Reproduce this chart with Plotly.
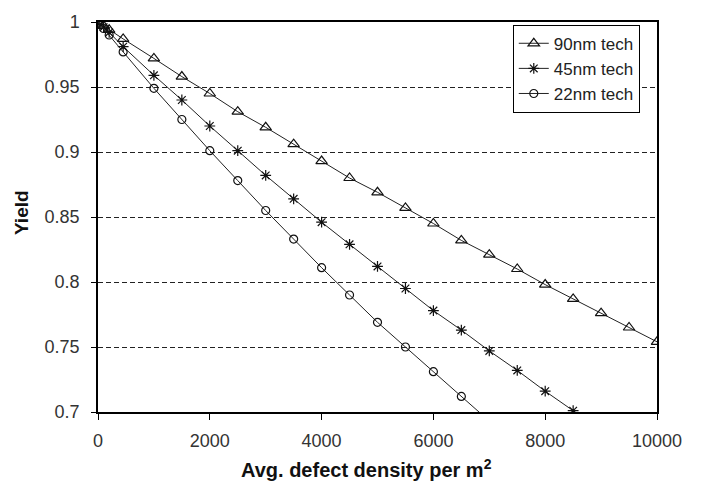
import plotly.graph_objects as go

density = [0, 100, 200, 450, 1000, 1500, 2000, 2500, 3000, 3500, 4000, 4500,
           5000, 5500, 6000, 6500, 7000, 7500, 8000, 8500, 9000, 9500, 10000]

yield_90 = [1.000, 0.997, 0.994, 0.987, 0.972, 0.958, 0.945, 0.931, 0.919, 0.906,
            0.893, 0.880, 0.869, 0.857, 0.845, 0.832, 0.821, 0.810, 0.798, 0.787,
            0.776, 0.765, 0.754]
yield_45 = [1.000, 0.996, 0.992, 0.981, 0.959, 0.940, 0.920, 0.901, 0.882, 0.864,
            0.846, 0.829, 0.812, 0.795, 0.778, 0.763, 0.747, 0.732, 0.716, 0.701,
            0.687]
yield_22 = [1.000, 0.995, 0.990, 0.977, 0.949, 0.925, 0.901, 0.878, 0.855, 0.833,
            0.811, 0.790, 0.769, 0.750, 0.731, 0.712, 0.693]

series_names = ["90nm tech", "45nm tech", "22nm tech"]
y_ticks = [0.7, 0.75, 0.8, 0.85, 0.9, 0.95, 1]
y_tick_text = ["0.7", "0.75", "0.8", "0.85", "0.9", "0.95", "1"]
x_ticks = [0, 2000, 4000, 6000, 8000, 10000]
x_tick_text = ["0", "2000", "4000", "6000", "8000", "10000"]

FONT = "Liberation Sans, Arial, sans-serif"

fig = go.Figure()
specs = [
    (yield_90, series_names[0], "triangle-up-open", 10),
    (yield_45, series_names[1], "asterisk-open", 9),
    (yield_22, series_names[2], "circle-open", 8),
]
for ys, name, sym, size in specs:
    fig.add_trace(go.Scatter(
        x=density[:len(ys)], y=ys, name=name, mode="lines+markers",
        line=dict(color="#222222", width=1),
        marker=dict(symbol=sym, size=size, color="#111111",
                    line=dict(color="#111111", width=1.2)),
    ))

fig.update_layout(
    width=702, height=485,
    margin=dict(l=98, r=45, t=16, b=73),
    paper_bgcolor="white", plot_bgcolor="white",
    font=dict(family=FONT, size=18, color="#333333"),
    showlegend=True,
    legend=dict(
        x=0.742, y=0.993, xanchor="left", yanchor="top",
        bordercolor="black", borderwidth=1, bgcolor="white",
        font=dict(family=FONT, size=17, color="#222222"),
        tracegroupgap=0, itemwidth=30,
    ),
    xaxis=dict(
        range=[0, 10000], tickvals=x_ticks, ticktext=x_tick_text,
        ticks="outside", ticklen=6,
        tickcolor="black", showline=True, linecolor="black", linewidth=1.5,
        mirror=True, showgrid=False, zeroline=False,
        tickfont=dict(size=18, color="#333333"), ticklabelstandoff=6,
    ),
    yaxis=dict(
        range=[0.7, 1.0], tickvals=y_ticks, ticktext=y_tick_text,
        ticks="outside", ticklen=5, tickcolor="black",
        showline=True, linecolor="black", linewidth=1.5, mirror=True,
        showgrid=True, gridcolor="#222222", gridwidth=1, griddash="5px,3px",
        zeroline=False, tickfont=dict(size=18, color="#333333"),
        ticklabelstandoff=8,
    ),
    annotations=[
        dict(text="<b>Avg. defect density per m<sup>2</sup></b>",
             xref="paper", yref="paper", x=0.48, y=0, xanchor="center",
             yanchor="middle", yshift=-56, showarrow=False,
             font=dict(family=FONT, size=20, color="#111111")),
        dict(text="<b>Yield</b>", xref="paper", yref="paper", x=0, y=0.51,
             xanchor="center", yanchor="middle", xshift=-77, textangle=-90,
             showarrow=False, font=dict(family=FONT, size=19, color="#111111")),
    ],
)

fig.write_html("out.html")
